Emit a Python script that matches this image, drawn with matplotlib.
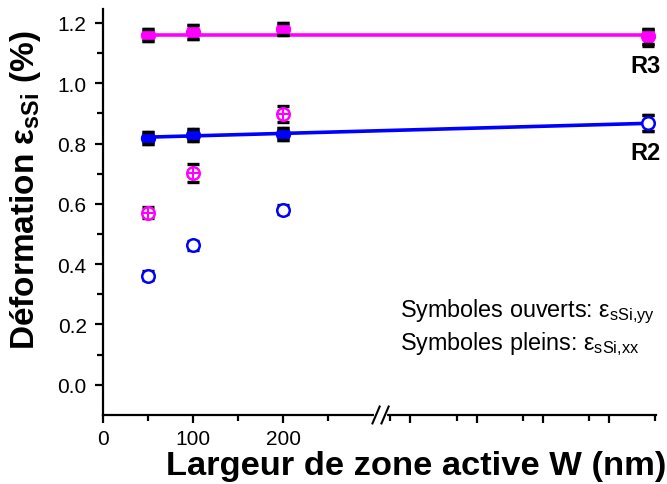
import numpy as np
import matplotlib
matplotlib.use("Agg")
import matplotlib.pyplot as plt

plt.rcParams['font.family'] = ['Liberation Sans', 'DejaVu Sans']
plt.rcParams['mathtext.fontset'] = 'custom'
plt.rcParams['mathtext.rm'] = 'Liberation Sans'
plt.rcParams['mathtext.it'] = 'Liberation Sans:italic'
plt.rcParams['mathtext.bf'] = 'Liberation Sans:bold'

# positions on the x axis: 50, 100, 200 nm, then the wide reference past the break
x_pos = [50, 100, 200, 605]

# R3 (magenta): filled = eps_xx, open = eps_yy
r3_xx = [1.160, 1.170, 1.180, 1.155]
r3_xx_err = [0.021, 0.022, 0.020, 0.025]
r3_yy = [0.570, 0.702, 0.898, 1.150]
r3_yy_err = [0.018, 0.030, 0.027, 0.028]
r3_level = 1.16

# R2 (blue)
r2_xx = [0.819, 0.829, 0.832, 0.867]
r2_xx_err = [0.020, 0.020, 0.020, 0.027]
r2_yy = [0.362, 0.462, 0.580, 0.867]
r2_yy_err = [0.015, 0.015, 0.015, 0.027]

MAGENTA = '#ff00ff'
BLUE = '#0000ff'

fig = plt.figure(figsize=(6.67, 4.85), dpi=100)
ax = fig.add_axes([0.1549, 0.1423, 0.9835 - 0.1549, 0.9794 - 0.1423])

CAP = 4.3


def errs(x, y, e, z=2):
    ax.errorbar(x, y, yerr=e, fmt='none', ecolor='k', elinewidth=1.5,
                capsize=CAP, capthick=2.4, zorder=z)


def caps(x, y, e, z):
    y = np.asarray(y)
    e = np.asarray(e)
    ax.plot(x, y + e, ls='none', marker='_', ms=2 * CAP, mew=2.4, color='k', zorder=z)
    ax.plot(x, y - e, ls='none', marker='_', ms=2 * CAP, mew=2.4, color='k', zorder=z)


# fitted lines
ax.plot([x_pos[0], x_pos[-1]], [r3_level, r3_level], color=MAGENTA, lw=2.6, zorder=1)
coef = np.polyfit(x_pos, r2_xx, 1)
xf = np.array([x_pos[0], x_pos[-1]])
ax.plot(xf, np.polyval(coef, xf), color=BLUE, lw=2.6, zorder=1)

# R3 open symbols (with cross) then filled
errs(x_pos, r3_yy, r3_yy_err)
ax.plot(x_pos[:3], r3_yy[:3], ls='none', marker='o', ms=9, mfc='white',
        mec=MAGENTA, mew=1.8, zorder=3)
ax.plot(x_pos[:3], r3_yy[:3], ls='none', marker='+', ms=8, mew=1.5,
        color=MAGENTA, zorder=3.5)
errs(x_pos, r3_xx, r3_xx_err)
ax.plot(x_pos, r3_xx, ls='none', marker='o', ms=10, color=MAGENTA, zorder=3)
caps(x_pos, r3_xx, r3_xx_err, 4)

# R2 filled then open
errs(x_pos, r2_xx, r2_xx_err)
ax.plot(x_pos[:3], r2_xx[:3], ls='none', marker='o', ms=10, color=BLUE, zorder=3)
caps(x_pos[:3], r2_xx[:3], r2_xx_err[:3], 4)
errs(x_pos, r2_yy, r2_yy_err)
ax.plot(x_pos, r2_yy, ls='none', marker='o', ms=9, mfc='white',
        mec=BLUE, mew=1.8, zorder=3)

ax.set_xlim(0, 614)
ax.set_ylim(-0.1, 1.246)

for s in ['top', 'right']:
    ax.spines[s].set_visible(False)
for s in ['left', 'bottom']:
    ax.spines[s].set_linewidth(1.6)

ax.set_xticks([0, 100, 200, 341, 415, 488, 562])
ax.set_xticklabels(['0', '100', '200', '', '', '', ''])
ax.set_xticks([50, 150, 250, 319, 393, 466, 540, 613], minor=True)
ax.set_yticks(np.arange(0, 1.21, 0.2))
ax.set_yticklabels([f'{v:.1f}' for v in np.arange(0, 1.21, 0.2)])
ax.set_yticks(np.arange(0.1, 1.21, 0.2), minor=True)
ax.tick_params(axis='both', which='major', length=6, width=1.6, labelsize=15, direction='out')
ax.tick_params(axis='both', which='minor', length=4, width=1.6, direction='out')
ax.tick_params(axis='y', which='major', pad=6)
ax.tick_params(axis='x', which='major', pad=4)

# axis break marks
ax.plot([303, 313], [-0.1, -0.1], color='white', lw=3, clip_on=False, zorder=5)
for xb in (303, 313):
    ax.plot([xb - 4, xb + 4], [-0.1 - 0.028, -0.1 + 0.028], color='k',
            lw=1.5, clip_on=False, zorder=6)

ax.text(619, 1.06, 'R3', fontsize=17, fontweight='bold', ha='right', va='center',
        clip_on=False)
ax.text(619, 0.771, 'R2', fontsize=17, fontweight='bold', ha='right', va='center',
        clip_on=False)

ax.text(330, 0.229, r'Symboles ouverts: $\mathrm{ε_{sSi{,}yy}}$', fontsize=16.8,
        ha='left', va='baseline')
ax.text(330, 0.119, r'Symboles pleins: $\mathrm{ε_{sSi{,}xx}}$', fontsize=16.8,
        ha='left', va='baseline')

fig.text(416 / 667, 1 - 467 / 485, 'Largeur de zone active W (nm)', fontsize=24.8,
         fontweight='bold', ha='center', va='center')
fig.text(26 / 667, 1 - 190 / 485, r'Déformation $\mathbf{ε_{sSi}}$ (%)', fontsize=24,
         fontweight='bold', ha='center', va='center', rotation=90)

fig.savefig('out.png', dpi=100)
